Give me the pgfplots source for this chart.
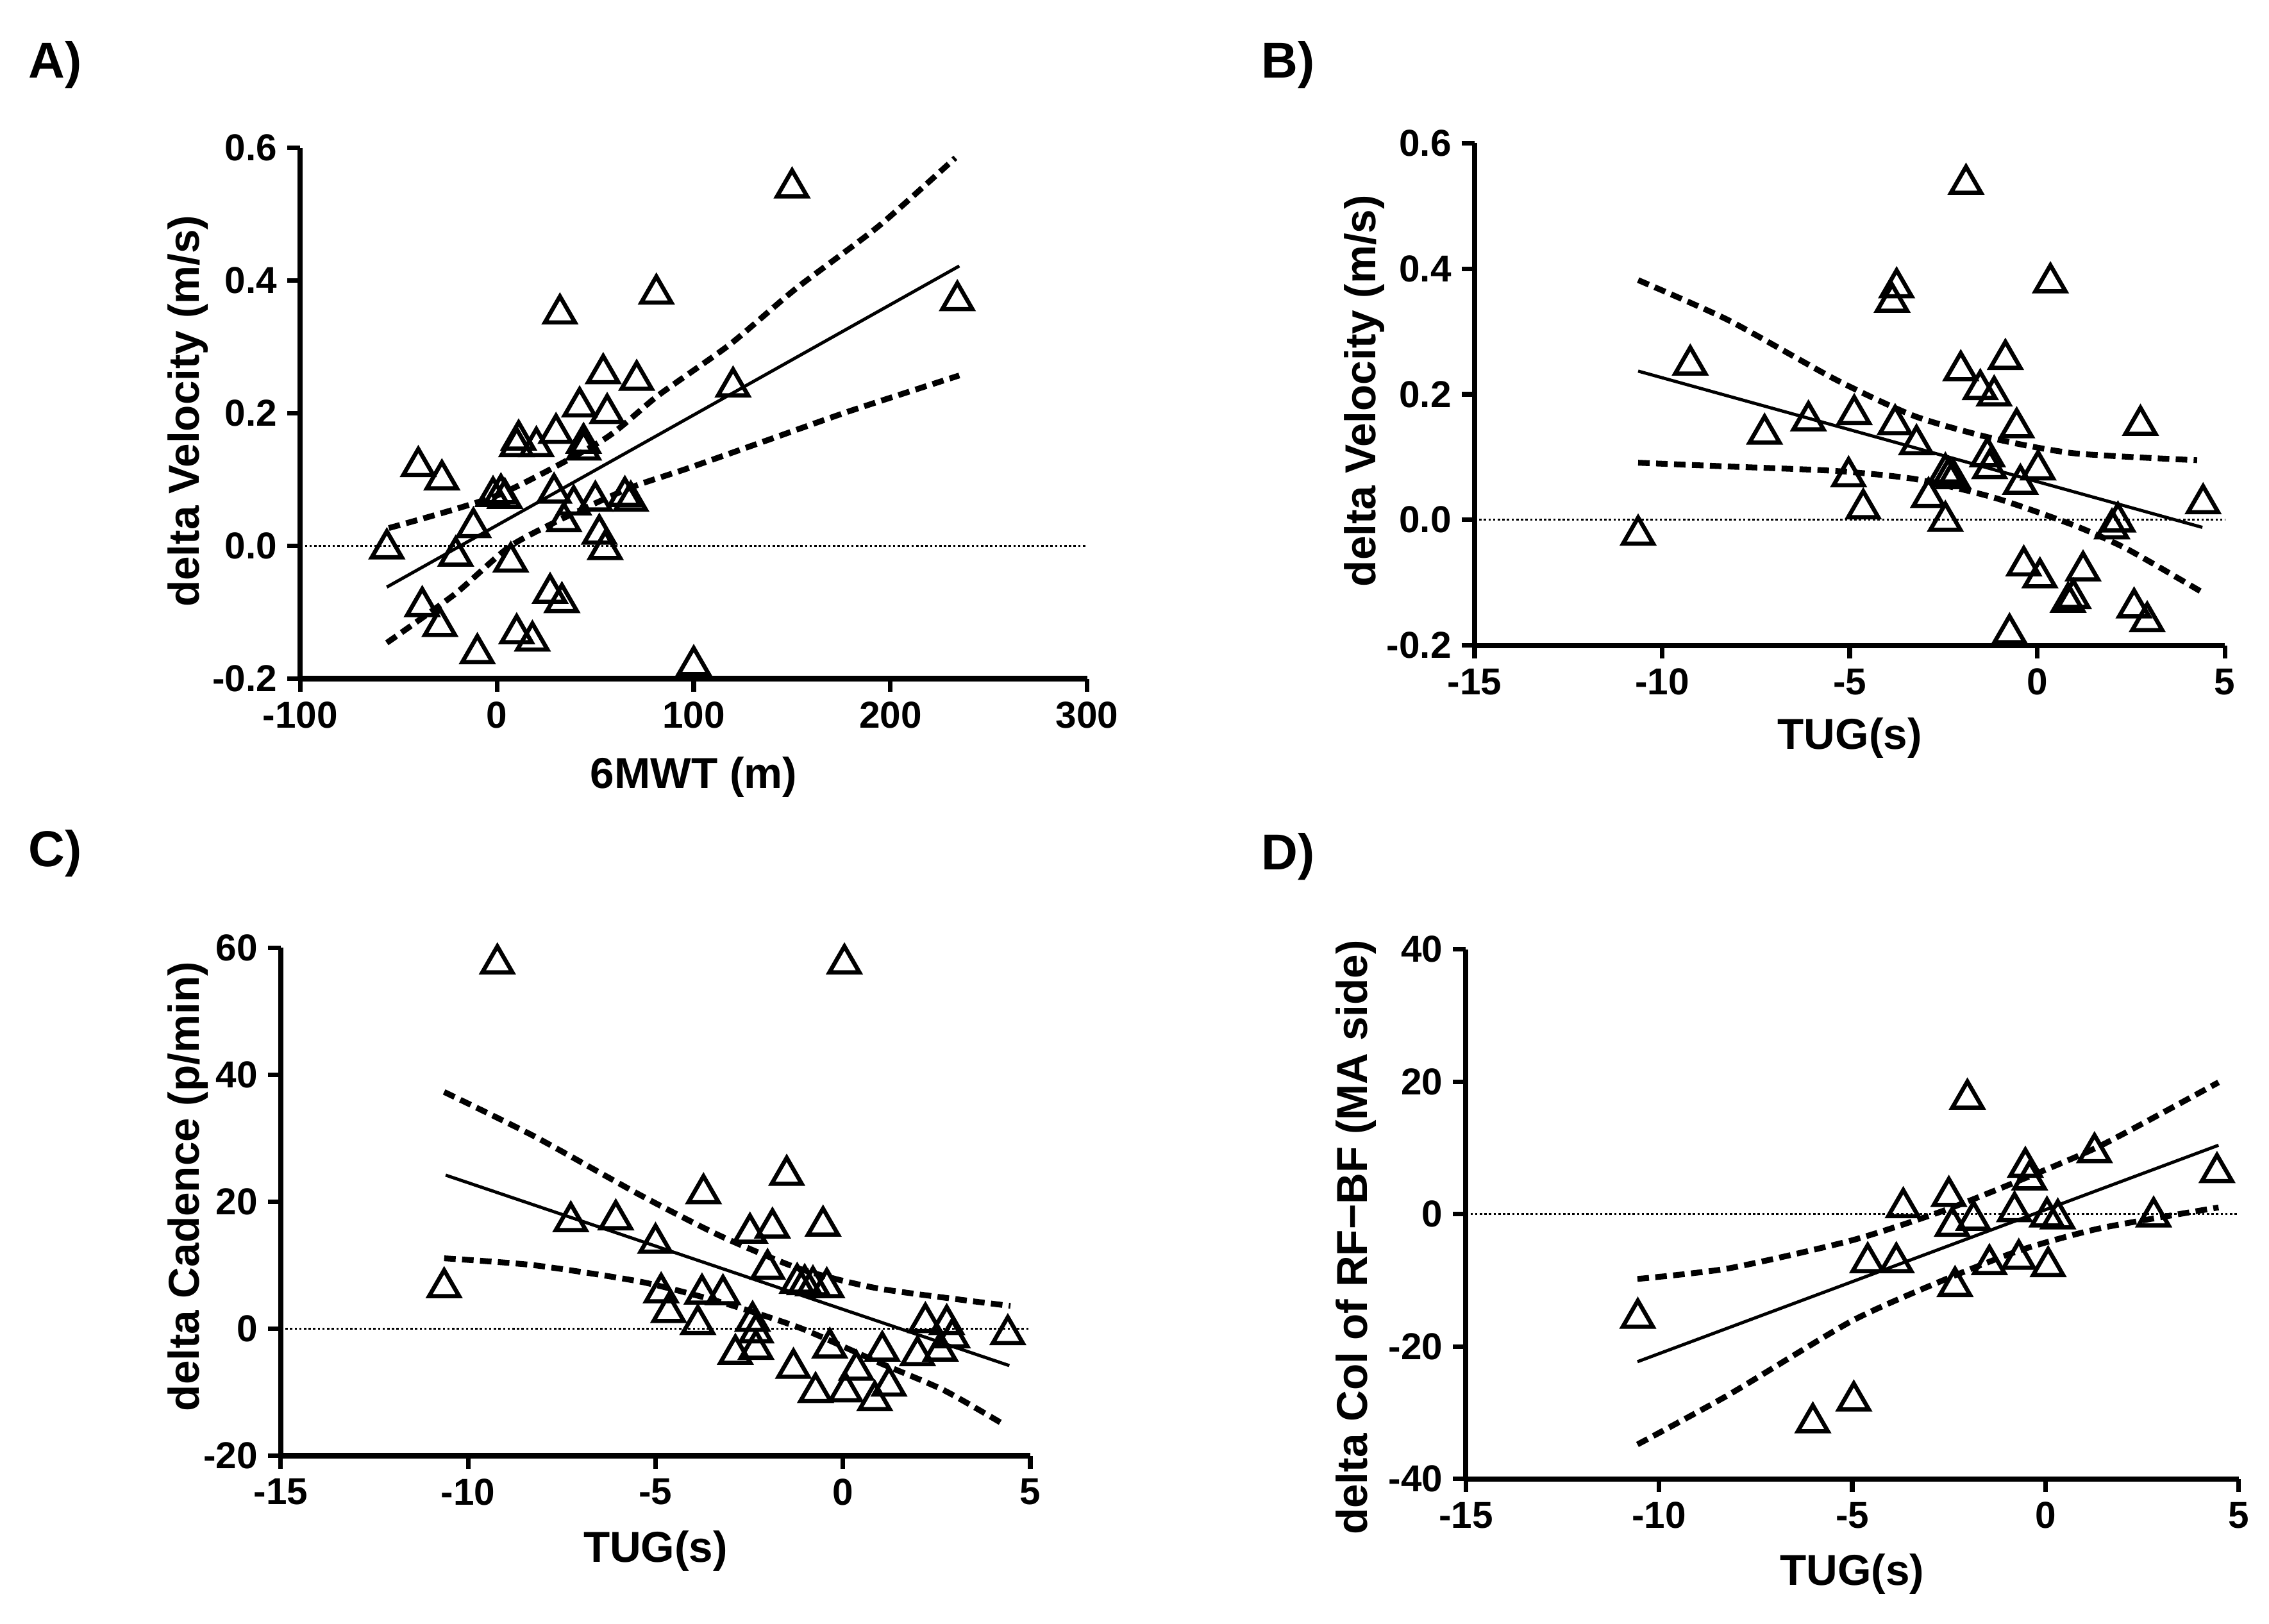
\documentclass[border=0pt]{standalone}
\usepackage{fontspec}
\setmainfont{Liberation Sans}
\usepackage{pgfplots}
\pgfplotsset{compat=1.18}
\pgfplotsset{
 panel/.style={
  scale only axis,
  axis x line*=bottom, axis y line*=left,
  axis line style={line width=1.8bp, -},
  tick align=outside,
  major tick length=4.5bp,
  major tick style={line width=1.6bp, black},
  tick label style={font=\fontsize{13}{13}\selectfont\bfseries},
  label style={font=\fontsize{15}{15}\selectfont\bfseries},
  /pgf/number format/assume math mode=true,
  clip=false,
  enlargelimits=false,
 },
 pts/.style={only marks, mark=triangle, mark size=6bp, mark options={line width=1.45bp, draw=black, fill=none}},
 fit/.style={no marks, line width=1.1bp, black},
 ci/.style={no marks, line width=2bp, black, dash pattern=on 4bp off 2.2bp, smooth, tension=0.4},
 zero/.style={no marks, line width=0.6bp, black, dash pattern=on 0.8bp off 0.8bp},
}
\begin{document}
\begin{tikzpicture}
\path[use as bounding box] (0,0) rectangle (784bp,561bp);
\node[font=\fontsize{17.5}{17.5}\selectfont\bfseries] at (19bp,538.5bp) {A)};
\node[font=\fontsize{17.5}{17.5}\selectfont\bfseries] at (445bp,538.5bp) {B)};
\node[font=\fontsize{17.5}{17.5}\selectfont\bfseries] at (19bp,266bp) {C)};
\node[font=\fontsize{17.5}{17.5}\selectfont\bfseries] at (445bp,265bp) {D)};

% ---------------- A ----------------
\begin{axis}[panel, at={(103.75bp,326.5bp)}, anchor=south west,
  width=271.9bp, height=183.4bp,
  xmin=-100, xmax=300, ymin=-0.2, ymax=0.6,
  xtick={-100,0,100,200,300}, xticklabels={-100,0,100,200,300},
  ytick={-0.2,0,0.2,0.4,0.6}, yticklabels={-0.2,0.0,0.2,0.4,0.6},
  xlabel={6MWT (m)}, ylabel={delta Velocity (m/s)},
  xlabel style={at={(axis description cs:0.5,-0.185)}, anchor=center},
  ylabel style={at={(axis description cs:-0.1425,0.504)}, anchor=center}]
\addplot[zero] coordinates {(-100,0) (300,0)};
\addplot[fit] coordinates {(-56,-0.062) (235,0.422)};
\addplot[ci] coordinates {(-55,0.027) (0.8,0.077) (54,0.16) (82,0.227) (118.5,0.304) (152,0.388) (194,0.482) (233,0.585)};
\addplot[ci] coordinates {(-56,-0.146) (-21.6,-0.073) (6.4,-0.001) (34.5,0.043) (68,0.088) (96,0.116) (138,0.16) (180,0.204) (235,0.257)};
\addplot[pts] coordinates {
(150,0.54) (81,0.38) (234,0.37) (32,0.35) (54,0.26) (71,0.25) (120,0.24)
(42,0.21) (56,0.20) (30,0.17) (11,0.16) (10,0.15) (20,0.15) (44,0.155)
(44,0.145) (-40,0.12) (-28,0.10) (-2,0.075) (2,0.079) (4,0.072) (29,0.08)
(39,0.062) (50,0.068) (65,0.075) (68,0.068) (-12,0.028) (34,0.037) (52,0.018)
(55,-0.005) (-56,-0.004) (-21,-0.015) (7,-0.024) (27,-0.071) (33,-0.085)
(-38,-0.091) (-29,-0.121) (10,-0.132) (18,-0.143) (-10,-0.162) (100,-0.18)};
\end{axis}

% ---------------- B ----------------
\begin{axis}[panel, at={(509.5bp,338bp)}, anchor=south west,
  width=259.25bp, height=173.5bp,
  xmin=-15, xmax=5, ymin=-0.2, ymax=0.6,
  xtick={-15,-10,-5,0,5}, xticklabels={-15,-10,-5,0,5},
  ytick={-0.2,0,0.2,0.4,0.6}, yticklabels={-0.2,0.0,0.2,0.4,0.6},
  xlabel={TUG(s)}, ylabel={delta Velocity (m/s)},
  xlabel style={at={(axis description cs:0.5,-0.184)}, anchor=center},
  ylabel style={at={(axis description cs:-0.1466,0.507)}, anchor=center}]
\addplot[zero] coordinates {(-15,0) (5,0)};
\addplot[fit] coordinates {(-10.64,0.237) (4.4,-0.012)};
\addplot[ci] coordinates {(-10.64,0.382) (-8.23,0.318) (-5.39,0.224) (-3.26,0.165) (-1.13,0.129) (0.99,0.106) (4.26,0.095)};
\addplot[ci] coordinates {(-10.64,0.091) (-8.23,0.085) (-5.39,0.078) (-3.26,0.065) (-1.13,0.035) (0.99,-0.009) (2.41,-0.047) (4.47,-0.118)};
\addplot[pts] coordinates {
(-1.9,0.535) (-3.75,0.37) (-3.87,0.347) (0.35,0.378) (-0.85,0.256) (-9.25,0.247)
(-2.04,0.238) (-1.52,0.208) (-1.15,0.198) (-4.88,0.168) (-6.1,0.158) (2.75,0.151)
(-3.79,0.152) (-0.55,0.147) (-7.27,0.137) (-3.22,0.12) (-1.33,0.101) (-1.27,0.082)
(0.02,0.08) (-2.45,0.075) (-2.36,0.069) (-2.24,0.066) (-5.03,0.069) (-0.45,0.057)
(-2.9,0.036) (-4.64,0.018) (4.42,0.026) (-2.45,-0.002) (2.15,-0.003) (1.99,-0.014)
(-10.64,-0.024) (-0.36,-0.073) (0.07,-0.092) (1.22,-0.081) (0.96,-0.125)
(0.82,-0.131) (2.58,-0.14) (2.93,-0.162) (-0.74,-0.181)};
\end{axis}

% ---------------- C ----------------
\begin{axis}[panel, at={(97bp,58bp)}, anchor=south west,
  width=259bp, height=175.5bp,
  xmin=-15, xmax=5, ymin=-20, ymax=60,
  xtick={-15,-10,-5,0,5}, xticklabels={-15,-10,-5,0,5},
  ytick={-20,0,20,40,60}, yticklabels={-20,0,20,40,60},
  xlabel={TUG(s)}, ylabel={delta Cadence (p/min)},
  xlabel style={at={(axis description cs:0.5,-0.188)}, anchor=center},
  ylabel style={at={(axis description cs:-0.1236,0.53)}, anchor=center}]
\addplot[zero] coordinates {(-15,0) (5,0)};
\addplot[fit] coordinates {(-10.6,24.2) (4.44,-5.8)};
\addplot[ci] coordinates {(-10.64,37.3) (-8.23,30.3) (-5.39,21.0) (-3.26,14.6) (-1.13,9.4) (0.99,6.3) (4.47,3.6)};
\addplot[ci] coordinates {(-10.64,11.1) (-8.23,10.0) (-5.39,7.4) (-3.26,4.2) (-1.13,0.1) (0.99,-5.4) (2.7,-9.7) (4.33,-15.2)};
\addplot[pts] coordinates {
(-9.22,57.5) (0.04,57.5) (-1.5,24.2) (-3.72,21.3) (-7.26,16.9) (-6.06,17.2)
(-1.88,15.9) (-0.53,16.2) (-2.48,15.1) (-5.0,13.5) (-2.01,9.4) (-10.64,6.5)
(-1.22,7.2) (-1.02,7.0) (-0.8,6.8) (-0.43,6.5) (-4.85,5.7) (-3.76,5.5) (-3.2,5.4)
(-4.65,2.6) (-3.87,0.7) (-2.41,1.2) (-2.32,-0.6) (-2.32,-3.2) (-2.87,-4.0)
(2.2,1.0) (2.77,0.7) (4.4,-0.9) (2.92,-1.4) (2.6,-3.5) (1.99,-4.2) (1.05,-3.5)
(-0.35,-3.0) (-1.32,-6.2) (0.36,-6.5) (1.23,-9.0) (-0.73,-10.0) (0.07,-9.9)
(0.85,-11.3)};
\end{axis}

% ---------------- D ----------------
\begin{axis}[panel, at={(506.5bp,50bp)}, anchor=south west,
  width=267bp, height=183bp,
  xmin=-15, xmax=5, ymin=-40, ymax=40,
  xtick={-15,-10,-5,0,5}, xticklabels={-15,-10,-5,0,5},
  ytick={-40,-20,0,20,40}, yticklabels={-40,-20,0,20,40},
  xlabel={TUG(s)}, ylabel={delta Col of RF−BF (MA side)},
  xlabel style={at={(axis description cs:0.5,-0.180)}, anchor=center},
  ylabel style={at={(axis description cs:-0.1423,0.456)}, anchor=center}]
\addplot[zero] coordinates {(-15,0) (5,0)};
\addplot[fit] coordinates {(-10.56,-22.3) (4.48,10.4)};
\addplot[ci] coordinates {(-10.56,-9.8) (-8.2,-8.2) (-5.03,-4.0) (-2.69,0.4) (-0.62,5.2) (1.45,10.4) (4.48,19.9)};
\addplot[ci] coordinates {(-10.56,-34.8) (-8.2,-27.3) (-5.03,-16.2) (-2.69,-10.1) (-0.62,-5.4) (1.45,-2.1) (4.48,1.0)};
\addplot[pts] coordinates {
(-2.02,17.4) (1.27,9.3) (-0.52,7.1) (-0.41,5.2) (4.44,6.3) (-2.5,2.7) (-3.68,1.0)
(-0.8,0.4) (0.04,-0.4) (0.32,-0.7) (2.8,-0.4) (-1.86,-0.9) (-2.41,-1.8)
(-4.6,-7.3) (-3.86,-7.3) (-1.45,-7.6) (-0.69,-6.8) (0.07,-7.9) (-2.34,-10.9)
(-10.55,-15.7) (-4.96,-28.2) (-6.02,-31.5)};
\end{axis}
\end{tikzpicture}
\end{document}
